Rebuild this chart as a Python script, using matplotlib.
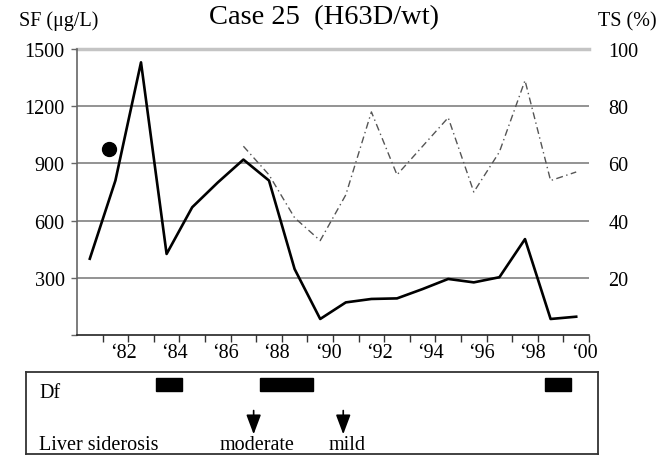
import matplotlib
matplotlib.use("Agg")
import matplotlib.pyplot as plt
import matplotlib.transforms as mtransforms

plt.rcParams['font.family'] = ['Liberation Serif', 'DejaVu Serif']

# ---- data ----
sf_years = [1980.5, 1981.5, 1982.5, 1983.5, 1984.5, 1985.5, 1986.5, 1987.5, 1988.5, 1989.5,
            1990.5, 1991.5, 1992.5, 1993.5, 1994.5, 1995.5, 1996.5, 1997.5, 1998.5, 1999.5]
sf_values = [400, 810, 1430, 425, 670, 800, 920, 810, 346, 84,
             171, 189, 192, 241, 294, 276, 303, 503, 84, 96]

ts_years = [1986.5, 1987.5, 1988.5, 1989.5, 1990.5, 1991.5, 1992.5, 1993.5, 1994.5,
            1995.5, 1996.5, 1997.5, 1998.5, 1999.5]
ts_values = [66, 56, 41, 33, 49, 78, 56, 66, 76, 50, 64, 89, 54, 57]

dot_year = [1981.25]
dot_ts = [65]

sf_ticks = [0, 300, 600, 900, 1200, 1500]
sf_ticklabels = ['', '300', '600', '900', '1200', '1500']
ts_ticks = [20, 40, 60, 80, 100]
ts_ticklabels = ['20', '40', '60', '80', '100']
year_major = [1982, 1984, 1986, 1988, 1990, 1992, 1994, 1996, 1998, 2000]
year_labels = ['\u201882', '\u201884', '\u201886', '\u201888', '\u201890',
               '\u201892', '\u201894', '\u201896', '\u201898', '\u201800']
year_minor = list(range(1981, 2001))

df_start = [1983.1, 1987.15, 1998.3]
df_end = [1984.1, 1989.2, 1999.3]
sid_years = [1986.9, 1990.4]
sid_labels = ['moderate', 'mild']

title = 'Case 25  (H63D/wt)'

# ---- figure ----
W, H = 666, 456
fig = plt.figure(figsize=(W / 100, H / 100), dpi=100)

def px_axes(x0, y0, x1, y1):
    return fig.add_axes([x0 / W, 1 - y1 / H, (x1 - x0) / W, (y1 - y0) / H])

ax = px_axes(77, 50, 589, 336)
ax.set_xlim(1980, 2000)
ax.set_ylim(0, 1500)

for v in sf_ticks[1:-1]:
    ax.axhline(v, color='#8a8a8a', lw=1.3, zorder=1)
ax.axhline(1500, color='#c4c4c4', lw=2.5, zorder=1, clip_on=False)

ax.plot(sf_years, sf_values, color='black', lw=1.9, zorder=3)

ax2 = ax.twinx()
ax2.set_ylim(0, 100)
ax2.plot(ts_years, ts_values, color='#555555', lw=1.0,
         linestyle=(0, (5, 2.5, 1, 2.5)), zorder=3)
ax2.plot(dot_year, dot_ts, 'o', color='black', markersize=10, zorder=4)

for a in (ax, ax2):
    for s in ('top', 'right'):
        a.spines[s].set_visible(False)
ax2.spines['left'].set_visible(False)
ax2.spines['bottom'].set_visible(False)

ax.spines['left'].set_color('#666666')
ax.spines['left'].set_linewidth(1.2)
ax.spines['bottom'].set_color('#222222')
ax.spines['bottom'].set_linewidth(1.2)

ax.set_yticks(sf_ticks)
ax.set_yticklabels(sf_ticklabels)
ax.tick_params(axis='y', direction='out', length=4, width=1, color='#666666',
               labelsize=14.5, pad=5)

ax.set_xticks(year_major)
ax.set_xticklabels(year_labels)
ax.set_xticks(year_minor, minor=True)
ax.tick_params(axis='x', which='both', direction='out', length=5, width=1,
               color='#333333', labelsize=14.5, pad=1)
offset = mtransforms.ScaledTranslation(-5 / 100, 0, fig.dpi_scale_trans)
for lab in ax.get_xticklabels():
    lab.set_transform(lab.get_transform() + offset)

ax2.set_yticks(ts_ticks)
ax2.set_yticklabels(ts_ticklabels)
ax2.tick_params(axis='y', length=0, labelsize=14.5, pad=14)

fig.text(324 / W, 1 - 18 / H, title, ha='center', va='center', fontsize=20.5)
fig.text(19 / W, 1 - 21 / H, 'SF (\u03bcg/L)', ha='left', va='center', fontsize=14.5)
fig.text(598 / W, 1 - 22 / H, 'TS (%)', ha='left', va='center', fontsize=14.5)

# ---- bottom panel ----
bx = px_axes(26, 373, 598, 455)
bx.set_xlim(1980 - 51 / 25.6, 2000 + 9 / 25.6)
bx.set_ylim(0, 1)
bx.set_xticks([])
bx.set_yticks([])
for s in bx.spines.values():
    s.set_color('#333333')
    s.set_linewidth(1.3)

for s0, s1 in zip(df_start, df_end):
    bx.add_patch(plt.Rectangle((s0, 0.77), s1 - s0, 0.155, color='black'))

bx.text(0.023, 0.695, 'Df', transform=bx.transAxes, ha='left', va='baseline', fontsize=14.5)
bx.text(0.023, 0.061, 'Liver siderosis', transform=bx.transAxes, ha='left', va='baseline',
        fontsize=14.5)

for yr, lab in zip(sid_years, sid_labels):
    bx.annotate('', xy=(yr, 0.24), xytext=(yr, 0.53),
                arrowprops=dict(arrowstyle='-|>,head_length=1.2,head_width=0.45',
                                color='black', lw=1.2, shrinkA=0, shrinkB=0))
    bx.text(yr + 0.15, 0.061, lab, ha='center', va='baseline', fontsize=14.5)

fig.savefig('out.png', dpi=100)
